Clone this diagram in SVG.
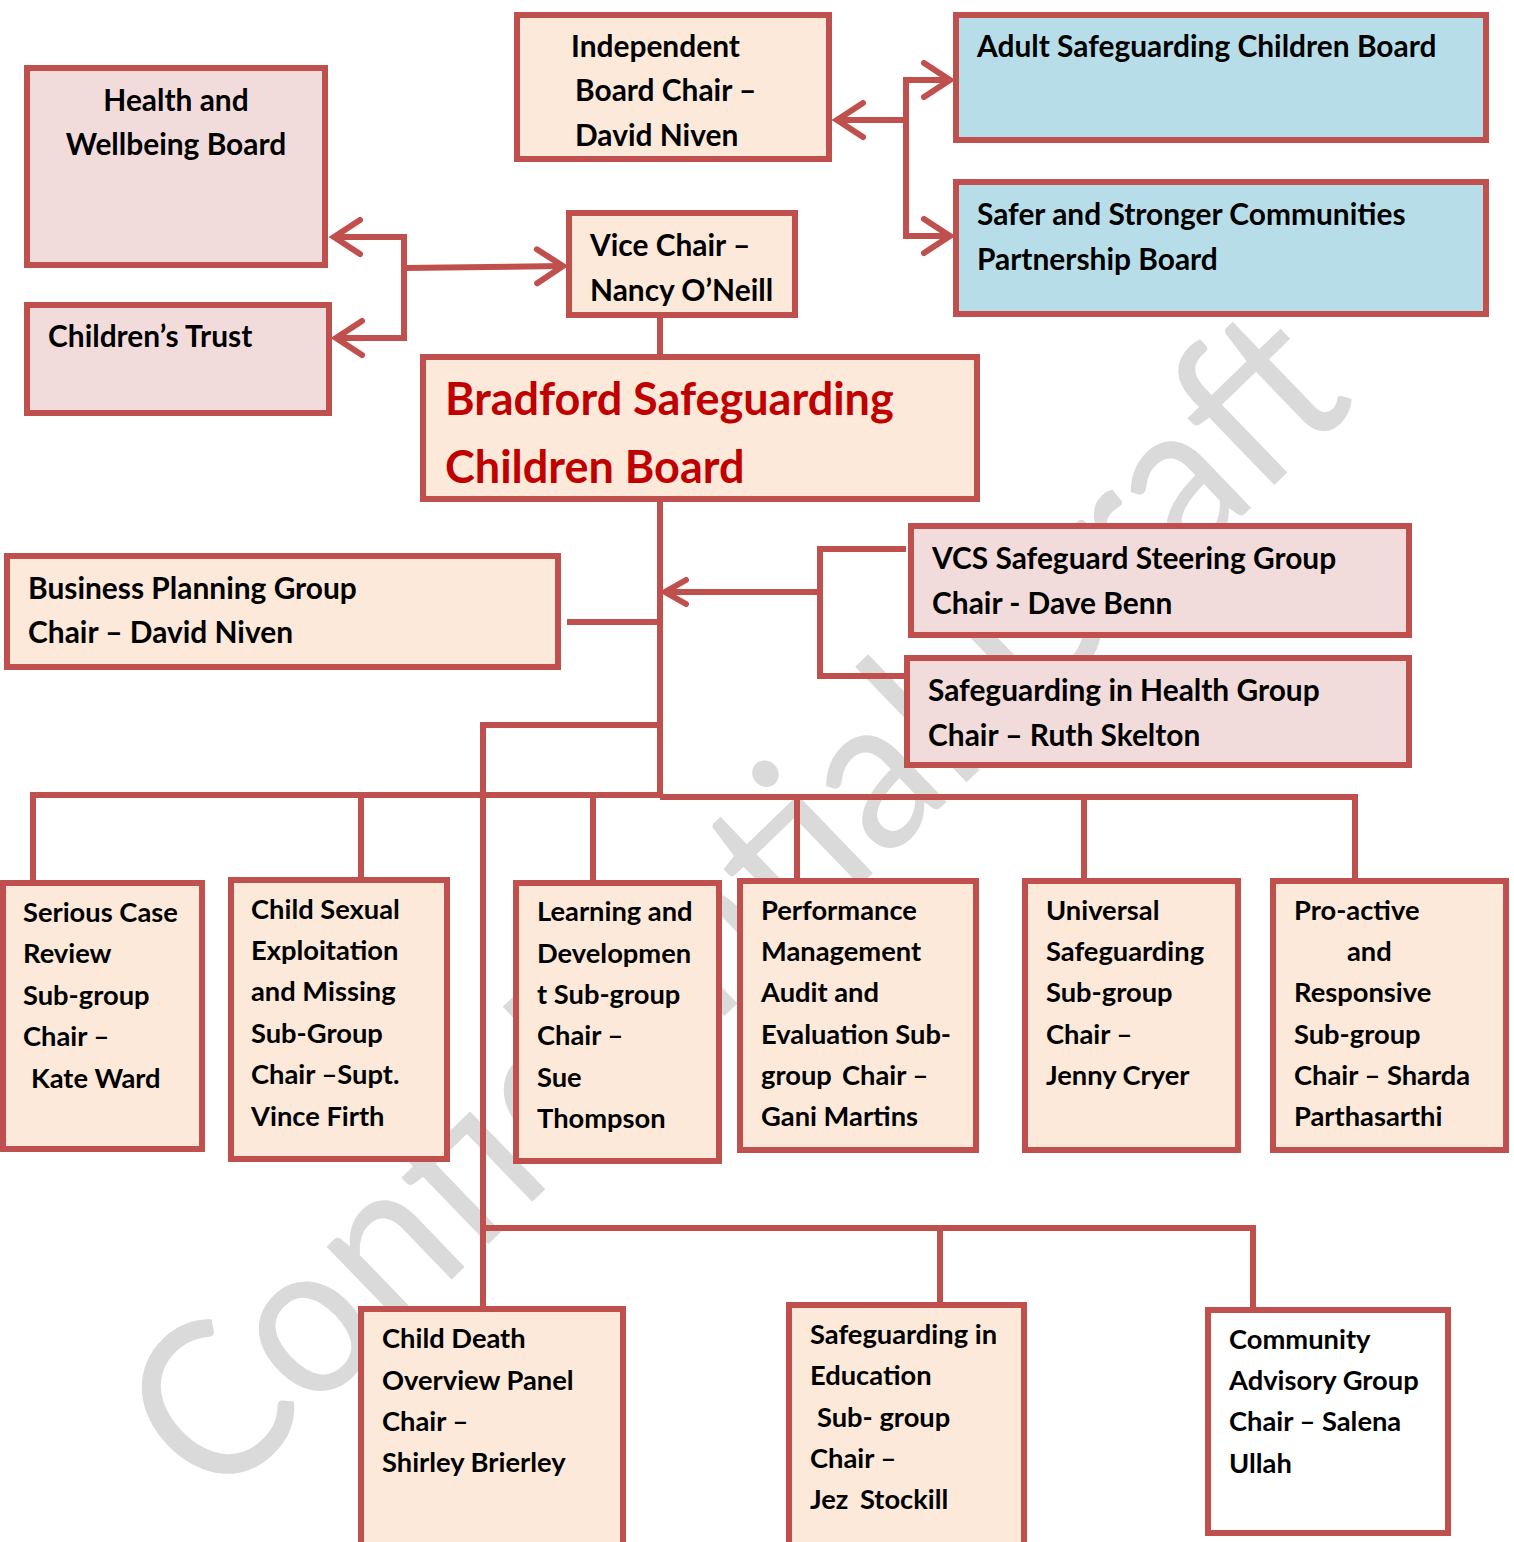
<svg xmlns="http://www.w3.org/2000/svg" width="1514" height="1542" viewBox="0 0 1514 1542">
<defs>
<style>
.box{stroke:#c0504d;stroke-width:6;}
.peach{fill:#fde9d9;}
.pink{fill:#f2dcdb;}
.blue{fill:#b7dee8;}
.white{fill:#ffffff;}
.t{font-family:Lato,"Liberation Sans",sans-serif;font-weight:700;font-size:29.9px;fill:#000;}
.s{font-family:Lato,"Liberation Sans",sans-serif;font-weight:700;font-size:27.3px;fill:#000;}
.title{font-family:Lato,"Liberation Sans",sans-serif;font-weight:700;font-size:45px;fill:#c00000;}
.wm{font-family:Lato,"Liberation Sans",sans-serif;font-weight:400;font-size:218px;fill:#dadada;}
.c{fill:none;stroke:#c0504d;stroke-width:6;}
</style>
<marker id="arr" markerUnits="userSpaceOnUse" markerWidth="44" markerHeight="48" viewBox="-36 -24 44 48" refX="0" refY="0" orient="auto">
<path d="M-26 -17 L0 0 L-26 17" fill="none" stroke="#c0504d" stroke-width="6" stroke-linecap="round"/>
</marker>
<marker id="arrs" markerUnits="userSpaceOnUse" markerWidth="36" markerHeight="36" viewBox="-28 -18 36 36" refX="0" refY="0" orient="auto">
<path d="M-21 -12 L0 0 L-21 12" fill="none" stroke="#c0504d" stroke-width="6" stroke-linecap="round"/>
</marker>
</defs>
<rect x="0" y="0" width="1514" height="1542" fill="#ffffff"/>
<g id="watermark">
<text class="wm" transform="translate(215,1508) rotate(-44)" textLength="1590" lengthAdjust="spacingAndGlyphs">Confidential Draft</text>
</g>
<g id="connectors">
<path class="c" d="M906 120 H837" marker-end="url(#arr)"/>
<path class="c" d="M906 77 V239"/>
<path class="c" d="M906 80 H950" marker-end="url(#arr)"/>
<path class="c" d="M906 236 H950" marker-end="url(#arr)"/>
<path class="c" d="M404 268 L563 266" marker-end="url(#arr)"/>
<path class="c" d="M404 234 V341"/>
<path class="c" d="M407 237 H334" marker-end="url(#arr)"/>
<path class="c" d="M407 338 H336" marker-end="url(#arr)"/>
<path class="c" d="M660 318 V354"/>
<path class="c" d="M660 502 V798"/>
<path class="c" d="M567 622 H660"/>
<path class="c" d="M906 549 H820 V676 H904"/>
<path class="c" d="M820 592 H665" marker-end="url(#arrs)"/>
<path class="c" d="M660 725 H483 V1306"/>
<path class="c" d="M480 1228 H1253 V1308"/>
<path class="c" d="M940 1228 V1303"/>
<path class="c" d="M33 881 V795 H660"/>
<path class="c" d="M660 797 H1355 V879"/>
<path class="c" d="M361 795 V878"/>
<path class="c" d="M593 795 V881"/>
<path class="c" d="M797 797 V879"/>
<path class="c" d="M1084 797 V879"/>
</g>
<g id="independent-chair">
<rect class="box peach" x="517" y="15" width="312" height="144"/>
<text class="t"><tspan x="571" y="57">Independent</tspan><tspan x="575" y="101">Board Chair –</tspan><tspan x="575" y="146">David Niven</tspan></text>
</g>
<g id="health-wellbeing-board">
<rect class="box pink" x="27" y="68" width="298" height="197"/>
<text class="t" text-anchor="middle"><tspan x="176" y="111">Health and</tspan><tspan x="176" y="155">Wellbeing Board</tspan></text>
</g>
<g id="childrens-trust">
<rect class="box pink" x="27" y="305" width="302" height="108"/>
<text class="t" x="48" y="347">Children’s Trust</text>
</g>
<g id="vice-chair">
<rect class="box peach" x="569" y="213" width="226" height="102"/>
<text class="t"><tspan x="590" y="256">Vice Chair –</tspan><tspan x="590" y="301">Nancy O’Neill</tspan></text>
</g>
<g id="adult-safeguarding-board">
<rect class="box blue" x="956" y="15" width="530" height="125"/>
<text class="t" x="977" y="57">Adult Safeguarding Children Board</text>
</g>
<g id="safer-stronger-board">
<rect class="box blue" x="956" y="182" width="530" height="132"/>
<text class="t"><tspan x="977" y="225">Safer and Stronger Communities</tspan><tspan x="977" y="270">Partnership Board</tspan></text>
</g>
<g id="bscb">
<rect class="box peach" x="423" y="357" width="554" height="142"/>
<text class="title"><tspan x="445" y="415">Bradford Safeguarding</tspan><tspan x="445" y="483">Children Board</tspan></text>
</g>
<g id="business-planning">
<rect class="box peach" x="7" y="556" width="551" height="111"/>
<text class="t"><tspan x="28" y="599">Business Planning Group</tspan><tspan x="28" y="643">Chair – David Niven</tspan></text>
</g>
<g id="vcs-steering">
<rect class="box pink" x="911" y="526" width="498" height="109"/>
<text class="t"><tspan x="932" y="569">VCS Safeguard Steering Group</tspan><tspan x="932" y="614">Chair - Dave Benn</tspan></text>
</g>
<g id="safeguarding-health">
<rect class="box pink" x="907" y="658" width="502" height="107"/>
<text class="t"><tspan x="928" y="701">Safeguarding in Health Group</tspan><tspan x="928" y="746">Chair – Ruth Skelton</tspan></text>
</g>
<g id="serious-case-review">
<rect class="box peach" x="3" y="883" width="199" height="266"/>
<text class="s"><tspan x="23" y="922">Serious Case</tspan><tspan x="23" y="963">Review</tspan><tspan x="23" y="1005">Sub-group</tspan><tspan x="23" y="1046">Chair –</tspan><tspan x="31" y="1088">Kate Ward</tspan></text>
</g>
<g id="cse-missing">
<rect class="box peach" x="231" y="880" width="216" height="279"/>
<text class="s"><tspan x="251" y="919">Child Sexual</tspan><tspan x="251" y="960">Exploitation</tspan><tspan x="251" y="1001">and Missing</tspan><tspan x="251" y="1043">Sub-Group</tspan><tspan x="251" y="1084">Chair –Supt.</tspan><tspan x="251" y="1126">Vince Firth</tspan></text>
</g>
<g id="learning-development">
<rect class="box peach" x="516" y="883" width="203" height="278"/>
<text class="s"><tspan x="537" y="921">Learning and</tspan><tspan x="537" y="963">Developmen</tspan><tspan x="537" y="1004">t Sub-group</tspan><tspan x="537" y="1045">Chair –</tspan><tspan x="537" y="1087">Sue</tspan><tspan x="537" y="1128">Thompson</tspan></text>
</g>
<g id="performance-management">
<rect class="box peach" x="740" y="881" width="236" height="269"/>
<text class="s"><tspan x="761" y="920">Performance</tspan><tspan x="761" y="961">Management</tspan><tspan x="761" y="1002">Audit and</tspan><tspan x="761" y="1044">Evaluation Sub-</tspan><tspan x="761" y="1085">group</tspan><tspan x="842" y="1085">Chair –</tspan><tspan x="761" y="1126">Gani Martins</tspan></text>
</g>
<g id="universal-safeguarding">
<rect class="box peach" x="1025" y="881" width="213" height="269"/>
<text class="s"><tspan x="1046" y="920">Universal</tspan><tspan x="1046" y="961">Safeguarding</tspan><tspan x="1046" y="1002">Sub-group</tspan><tspan x="1046" y="1044">Chair –</tspan><tspan x="1046" y="1085">Jenny Cryer</tspan></text>
</g>
<g id="proactive-responsive">
<rect class="box peach" x="1273" y="881" width="233" height="269"/>
<text class="s"><tspan x="1294" y="920">Pro-active</tspan><tspan x="1347" y="961">and</tspan><tspan x="1294" y="1002">Responsive</tspan><tspan x="1294" y="1044">Sub-group</tspan><tspan x="1294" y="1085">Chair – Sharda</tspan><tspan x="1294" y="1126">Parthasarthi</tspan></text>
</g>
<g id="child-death-overview">
<rect class="box peach" x="361" y="1309" width="262" height="245"/>
<text class="s"><tspan x="382" y="1348">Child Death</tspan><tspan x="382" y="1390">Overview Panel</tspan><tspan x="382" y="1431">Chair –</tspan><tspan x="382" y="1472">Shirley Brierley</tspan></text>
</g>
<g id="safeguarding-education">
<rect class="box peach" x="789" y="1305" width="235" height="250"/>
<text class="s"><tspan x="810" y="1344">Safeguarding in</tspan><tspan x="810" y="1385">Education</tspan><tspan x="817" y="1427">Sub- group</tspan><tspan x="810" y="1468">Chair –</tspan><tspan x="810" y="1509">Jez</tspan><tspan x="860" y="1509">Stockill</tspan></text>
</g>
<g id="community-advisory">
<rect class="box white" x="1208" y="1310" width="240" height="223"/>
<text class="s"><tspan x="1229" y="1349">Community</tspan><tspan x="1229" y="1390">Advisory Group</tspan><tspan x="1229" y="1431">Chair – Salena</tspan><tspan x="1229" y="1473">Ullah</tspan></text>
</g>
</svg>
